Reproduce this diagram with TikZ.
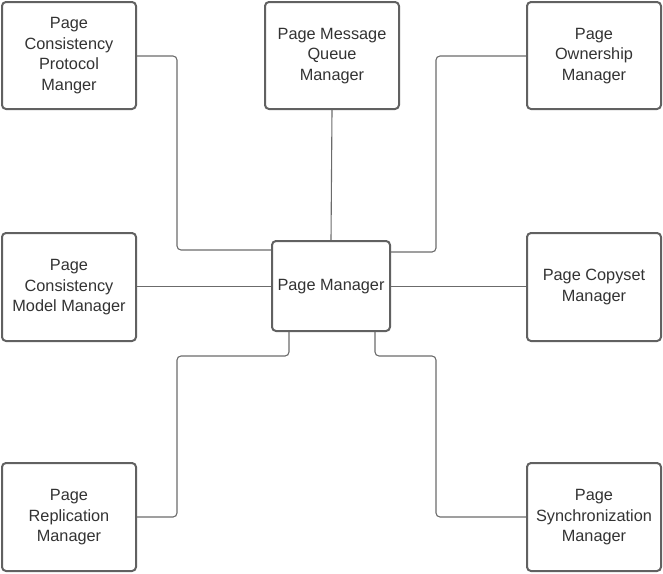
\documentclass[tikz,border=0pt]{standalone}
\usepackage{fontspec}
\setmainfont{Liberation Sans}
\begin{document}
\begin{tikzpicture}[x=1pt,y=-1pt,
  box/.style={draw=black!62,line width=2pt,rounded corners=4pt,fill=white,align=center,
    font=\fontsize{16.3}{20.5}\selectfont,text=black!80,inner sep=0pt},
  link/.style={draw=black!58,line width=1.1pt,rounded corners=4pt}]
\useasboundingbox (0,0) rectangle (663,573);
\newcommand\mybox[6]{\node[box,minimum width=#3-#1,minimum height=#4-#2] (#5) at ({(#1+#3)/2},{(#2+#4)/2}) {\raisebox{-1.5pt}{\begin{tabular}{@{}c@{}}#6\end{tabular}}};}
\mybox{2}{2}{136}{109}{tl}{Page\\Consistency\\Protocol\\Manger}
\mybox{265}{2}{399}{109}{tm}{Page Message\\Queue\\Manager}
\mybox{527}{2}{661}{109}{tr}{Page\\Ownership\\Manager}
\mybox{2}{233}{136}{341}{ml}{Page\\Consistency\\Model Manager}
\mybox{272}{241}{390}{331}{pm}{Page Manager}
\mybox{527}{233}{661}{341}{mr}{Page Copyset\\Manager}
\mybox{2}{463}{136}{571}{bl}{Page\\Replication\\Manager}
\mybox{527}{463}{661}{571}{br}{Page\\Synchronization\\Manager}
\coordinate (a1) at (177,56);
\coordinate (a2) at (177,250);
\coordinate (b1) at (436,56);
\coordinate (b2) at (436,252);
\coordinate (c1) at (289,356);
\coordinate (c2) at (177,356);
\coordinate (c3) at (177,517);
\coordinate (d1) at (375,356);
\coordinate (d2) at (436,356);
\coordinate (d3) at (436,517);
\coordinate (e1) at (0,286.6);
\draw[link] (tl.east |- a1) -- (a1) -- (a2) -- (pm.west |- a2);
\draw[link] (tm.south) -- (pm.north);
\draw[link] (tr.west |- b1) -- (b1) -- (b2) -- (pm.east |- b2);
\draw[link] (ml.east |- e1) -- (pm.west |- e1);
\draw[link] (pm.east |- e1) -- (mr.west |- e1);
\draw[link] (pm.south -| c1) -- (c1) -- (c2) -- (c3) -- (bl.east |- c3);
\draw[link] (pm.south -| d1) -- (d1) -- (d2) -- (d3) -- (br.west |- d3);
\end{tikzpicture}
\end{document}
